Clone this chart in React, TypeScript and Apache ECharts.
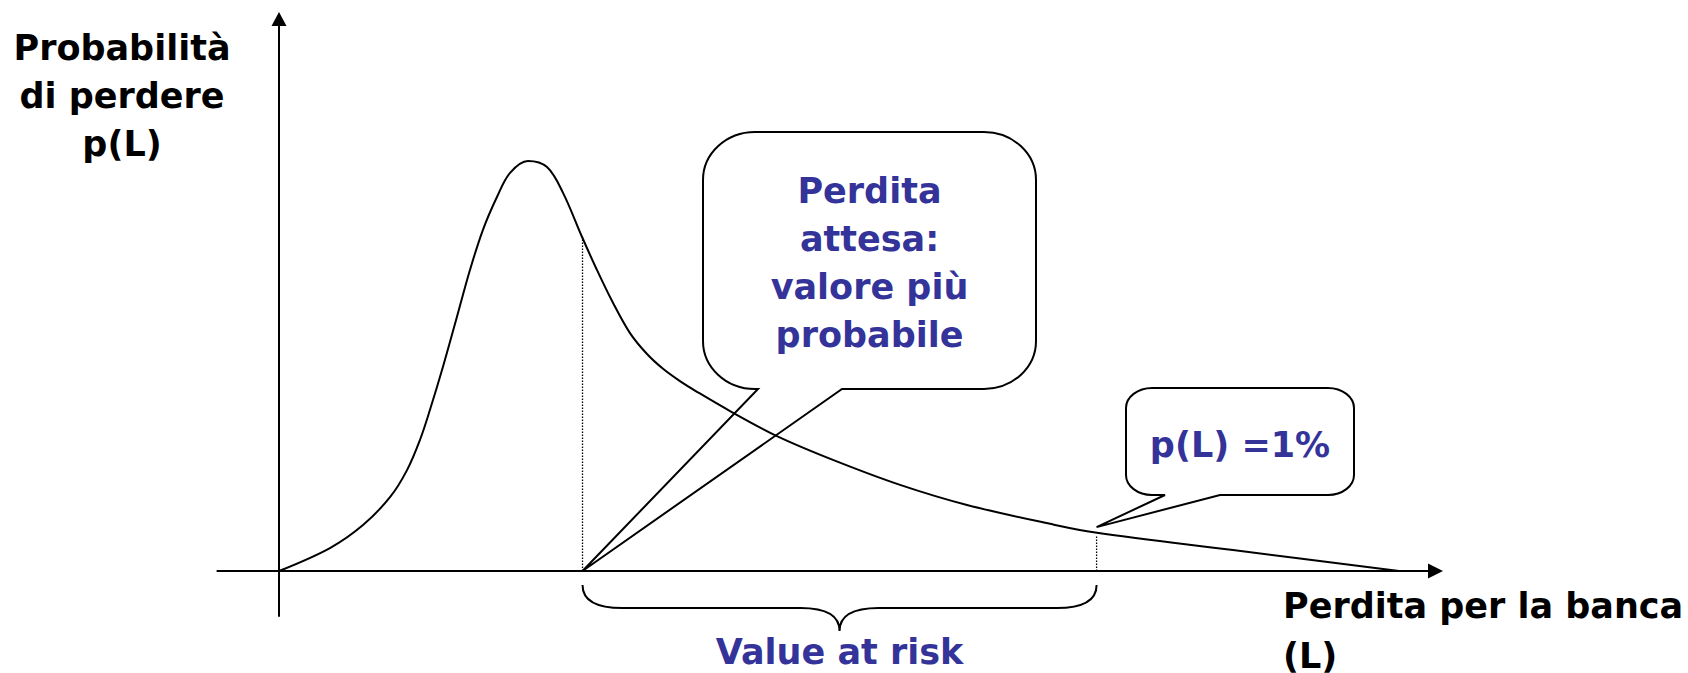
import React, { useEffect, useRef } from "react";
import * as echarts from "echarts";

// Loss (x) and probability (y)
const lossValues = [0, 4.55, 7.5, 9.91, 11.43, 12.59, 13.48, 14.64, 15.89, 17.05, 18.21, 19.46, 20.63, 22.23, 23.93, 25.36, 27.05, 28.39, 29.82, 31.34, 32.86, 34.29, 35.8, 37.32, 40.27, 44.46, 49.46, 55.45, 61.43, 68.84, 73.04, 85.18, 100];
const probValues = [0, 5.6, 11.2, 18.0, 24.6, 32.0, 39.3, 49.8, 62.0, 73.4, 83.2, 91.2, 97.1, 100, 98.5, 92.2, 81.5, 73.4, 65.4, 58.0, 52.9, 49.3, 46.3, 43.7, 39.0, 32.9, 27.1, 21.0, 16.1, 11.5, 9.3, 5.1, 0];

// Marked points
const expectedLoss = [27.1, 81.3]; // dotted line at expected loss
const tailLoss = [73.0, 8.5]; // dotted line at 1% tail
const calloutAnchor1 = [27.1, 0];
const calloutAnchor2 = [73.0, 10.7];

// Texts
const yAxisTitle = "Probabilità\ndi perdere\np(L)";
const xAxisTitle = "Perdita per la banca\n(L)";
const callout1Text = "Perdita\nattesa:\nvalore più\nprobabile";
const callout2Text = "p(L) =1%";
const braceText = "Value at risk";

const FONT = 'bold 35px "DejaVu Sans"';
const BLUE = "#333399";

function roundedCallout(L: number, T: number, R: number, B: number, rx: number, ry: number, bl: number, br: number, tx: number, ty: number) {
  const k = 0.5523;
  return [
    `M${L + rx},${T}`,
    `L${R - rx},${T}`,
    `C${R - rx + k * rx},${T} ${R},${T + ry - k * ry} ${R},${T + ry}`,
    `L${R},${B - ry}`,
    `C${R},${B - ry + k * ry} ${R - rx + k * rx},${B} ${R - rx},${B}`,
    `L${br},${B}`,
    `L${tx},${ty}`,
    `L${bl},${B}`,
    `L${L + rx},${B}`,
    `C${L + rx - k * rx},${B} ${L},${B - ry + k * ry} ${L},${B - ry}`,
    `L${L},${T + ry}`,
    `C${L},${T + ry - k * ry} ${L + rx - k * rx},${T} ${L + rx},${T}`,
    "Z",
  ].join(" ");
}

export default function App() {
  const ref = useRef<HTMLDivElement>(null);
  useEffect(() => {
    if (!ref.current) return;
    const chart = echarts.init(ref.current, null, { renderer: "svg" });
    const curve = lossValues.map((x, i) => [x, probValues[i]]);
    chart.setOption({
      animation: false,
      backgroundColor: "#fff",
      grid: { left: 217.4, top: 19, width: 1218.1, height: 597.1 },
      xAxis: {
        type: "value",
        min: -5.5,
        max: 103.26,
        axisLine: {
          onZero: true,
          lineStyle: { color: "#000", width: 2 },
          symbol: ["none", "triangle"],
          symbolSize: [15, 15],
        },
        axisTick: { show: false },
        axisLabel: { show: false },
        splitLine: { show: false },
      },
      yAxis: {
        type: "value",
        min: -11,
        max: 134.6,
        axisLine: {
          onZero: true,
          lineStyle: { color: "#000", width: 2 },
          symbol: ["none", "triangle"],
          symbolSize: [15, 14],
        },
        axisTick: { show: false },
        axisLabel: { show: false },
        splitLine: { show: false },
      },
      series: [
        {
          type: "line",
          data: curve,
          smooth: 0.35,
          symbol: "none",
          lineStyle: { color: "#000", width: 2 },
          z: 3,
        },
        {
          type: "line",
          data: [[expectedLoss[0], 0], expectedLoss],
          symbol: "none",
          lineStyle: { color: "#000", width: 1.3, type: [1.5, 1.5] },
        },
        {
          type: "line",
          data: [[tailLoss[0], 0], tailLoss],
          symbol: "none",
          lineStyle: { color: "#000", width: 1.3, type: [1.5, 1.5] },
        },
      ],
    });

    const p1 = chart.convertToPixel({ gridIndex: 0 }, calloutAnchor1) as number[];
    const p2 = chart.convertToPixel({ gridIndex: 0 }, calloutAnchor2) as number[];
    const v1 = chart.convertToPixel({ gridIndex: 0 }, [expectedLoss[0], 0]) as number[];
    const v2 = chart.convertToPixel({ gridIndex: 0 }, [tailLoss[0], 0]) as number[];

    const d1 = roundedCallout(703, 132, 1036, 389, 52, 48, 758, 842, p1[0], p1[1]);
    const d2 = roundedCallout(1126, 388, 1354, 495, 26, 20, 1165, 1220, p2[0], p2[1]);

    const bx1 = v1[0];
    const bx2 = v2[0];
    const bm = (bx1 + bx2) / 2;
    const yT = 585, yM = 608, yC = 631;
    const dBrace = [
      `M${bx1},${yT}`,
      `Q${bx1},${yM} ${bx1 + 40},${yM}`,
      `L${bm - 39},${yM}`,
      `Q${bm},${yM} ${bm},${yC}`,
      `Q${bm},${yM} ${bm + 39},${yM}`,
      `L${bx2 - 40},${yM}`,
      `Q${bx2},${yM} ${bx2},${yT}`,
    ].join(" ");

    echarts.graphic.registerShape("calloutOne", echarts.graphic.extendPath(d1, {}));
    echarts.graphic.registerShape("calloutTwo", echarts.graphic.extendPath(d2, {}));
    echarts.graphic.registerShape("varBrace", echarts.graphic.extendPath(dBrace, {}));

    chart.setOption({
      graphic: [
        { type: "calloutOne", x: 0, y: 0, style: { fill: "none", stroke: "#000", lineWidth: 2 }, z: 10 },
        { type: "calloutTwo", x: 0, y: 0, style: { fill: "none", stroke: "#000", lineWidth: 2 }, z: 10 },
        { type: "varBrace", x: 0, y: 0, style: { fill: "none", stroke: "#000", lineWidth: 2 }, z: 10 },
        {
          type: "text", x: 122, y: 24, z: 10,
          style: { text: yAxisTitle, font: FONT, fill: "#000", textAlign: "center", align: "center", textVerticalAlign: "top", verticalAlign: "top", lineHeight: 48 },
        },
        {
          type: "text", x: 1283, y: 581, z: 10,
          style: { text: xAxisTitle, font: FONT, fill: "#000", textAlign: "left", align: "left", textVerticalAlign: "top", verticalAlign: "top", lineHeight: 50 },
        },
        {
          type: "text", x: 869.5, y: 167, z: 10,
          style: { text: callout1Text, font: FONT, fill: BLUE, textAlign: "center", align: "center", textVerticalAlign: "top", verticalAlign: "top", lineHeight: 48 },
        },
        {
          type: "text", x: 1240, y: 445, z: 10,
          style: { text: callout2Text, font: FONT, fill: BLUE, textAlign: "center", align: "center", textVerticalAlign: "middle", verticalAlign: "middle" },
        },
        {
          type: "text", x: bm, y: 652, z: 10,
          style: { text: braceText, font: FONT, fill: BLUE, textAlign: "center", align: "center", textVerticalAlign: "middle", verticalAlign: "middle" },
        },
      ],
    });

    return () => chart.dispose();
  }, []);
  return (
    <div
      ref={ref}
      style={{ position: "absolute", left: 0, top: 0, width: 1688, height: 673, background: "#fff" }}
    />
  );
}
